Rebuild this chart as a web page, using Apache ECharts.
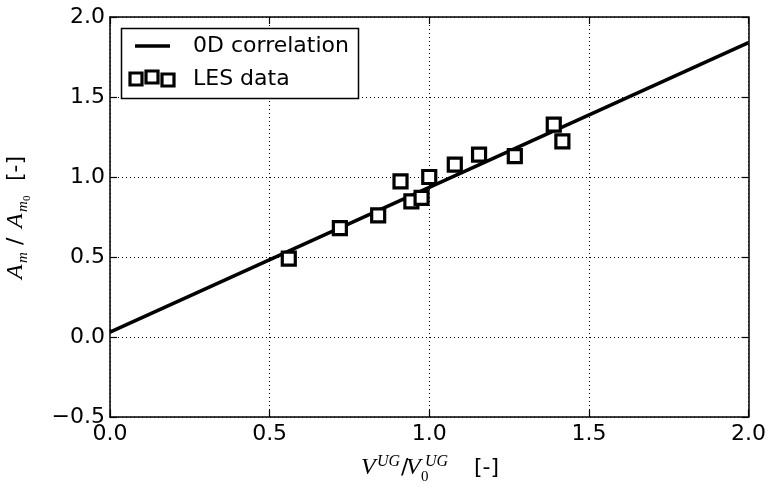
<!DOCTYPE html>
<html>
<head>
<meta charset="utf-8">
<script src="https://cdn.jsdelivr.net/npm/echarts@6/dist/echarts.min.js"></script>
<style>html,body{margin:0;padding:0;background:#fff}#c{width:769px;height:489px}</style>
</head>
<body>
<div id="c"></div>
<script>
// Data
const lineX = [0.0, 2.0];
const lineY = [0.03, 1.84];
const lesX = [0.56, 0.72, 0.84, 0.91, 0.944, 0.976, 1.0, 1.08, 1.156, 1.268, 1.39, 1.417];
const lesY = [0.49, 0.68, 0.76, 0.973, 0.848, 0.869, 1.0, 1.077, 1.14, 1.13, 1.327, 1.223];
const legendNames = ['0D correlation', 'LES data'];

const SANS = 'DejaVu Sans';
const SERIF = 'Liberation Serif';
const FS = 22;

const chart = echarts.init(document.getElementById('c'), null, {renderer: 'canvas'});

const commonAxis = {
  type: 'value',
  axisLine: {show: true, onZero: false, lineStyle: {color: '#000', width: 1.5}},
  axisTick: {show: true, inside: true, length: 7, lineStyle: {color: '#000', width: 1.2}},
  splitLine: {show: false}
};
const gridLine = {show: true, lineStyle: {color: '#000', width: 1, type: [1, 3]}};
const fmt = v => v.toFixed(1).replace('-', '\u2212');

function t(x, y, text, font, size, italic, va) {
  return {type: 'text', x: x, y: y, z: 100, style: {text: text, fontFamily: font, fontSize: size, fontStyle: italic ? 'italic' : 'normal', fill: '#000', align: 'left', verticalAlign: va || 'middle'}};
}

const option = {
  animation: false,
  backgroundColor: '#fff',
  grid: {left: 110, right: 20, top: 17, bottom: 72, containLabel: false},
  xAxis: [
    Object.assign({}, commonAxis, {min: 0, max: 2, interval: 0.5, position: 'bottom',
      axisLabel: {show: true, formatter: fmt, fontSize: FS, fontFamily: SANS, color: '#000', margin: 6},
      splitLine: gridLine}),
    Object.assign({}, commonAxis, {min: 0, max: 2, interval: 0.5, position: 'top', axisLabel: {show: false}})
  ],
  yAxis: [
    Object.assign({}, commonAxis, {min: -0.5, max: 2, interval: 0.5, position: 'left',
      axisLabel: {show: true, formatter: fmt, fontSize: FS, fontFamily: SANS, color: '#000', margin: 5},
      splitLine: gridLine}),
    Object.assign({}, commonAxis, {min: -0.5, max: 2, interval: 0.5, position: 'right', axisLabel: {show: false}})
  ],
  series: [
    {name: legendNames[0], type: 'line', data: lineX.map((x, i) => [x, lineY[i]]), showSymbol: false,
      lineStyle: {color: '#000', width: 3.5}, z: 3},
    {name: legendNames[1], type: 'scatter', data: lesX.map((x, i) => [x, lesY[i]]), symbol: 'rect', symbolSize: 13,
      itemStyle: {color: '#fff', borderColor: '#000', borderWidth: 3.2, opacity: 1}, z: 4}
  ],
  graphic: [
    // legend
    {type: 'rect', z: 90, shape: {x: 121.5, y: 28.5, width: 237, height: 70}, style: {fill: '#fff', stroke: '#000', lineWidth: 1.5}},
    {type: 'line', z: 100, shape: {x1: 135, y1: 46, x2: 170, y2: 46}, style: {stroke: '#000', lineWidth: 3.5}},
    t(193, 46, legendNames[0], SANS, FS, false),
    {type: 'rect', z: 100, shape: {x: 130, y: 73, width: 12, height: 12}, style: {fill: '#fff', stroke: '#000', lineWidth: 3.2}},
    {type: 'rect', z: 100, shape: {x: 146, y: 71, width: 12, height: 12}, style: {fill: '#fff', stroke: '#000', lineWidth: 3.2}},
    {type: 'rect', z: 100, shape: {x: 162, y: 74, width: 12, height: 12}, style: {fill: '#fff', stroke: '#000', lineWidth: 3.2}},
    t(193, 79, legendNames[1], SANS, FS, false),
    // x-axis title
    t(361, 468, 'V', SERIF, 24, true),
    t(377, 462, 'UG', SERIF, 16, true),
    t(401, 468, '/', SANS, 22, false),
    t(406, 468, 'V', SERIF, 24, true),
    t(421, 477, '0', SERIF, 15, false),
    t(425, 462, 'UG', SERIF, 16, true),
    t(474, 468, '[-]', SANS, 22, false),
    // y-axis title (rotated)
    {type: 'group', x: 16, y: 279, rotation: Math.PI / 2, z: 100, children: [
      t(0, 0, 'A', SERIF, 24, true),
      t(16, 7, 'm', SERIF, 15, true),
      t(34, 0, '/', SANS, 22, false),
      t(51, 0, 'A', SERIF, 24, true),
      t(67, 7, 'm', SERIF, 15, true),
      t(78, 11, '0', SERIF, 11, false),
      t(98, 0, '[-]', SANS, 22, false)
    ]}
  ]
};
chart.setOption(option);
</script>
</body>
</html>
